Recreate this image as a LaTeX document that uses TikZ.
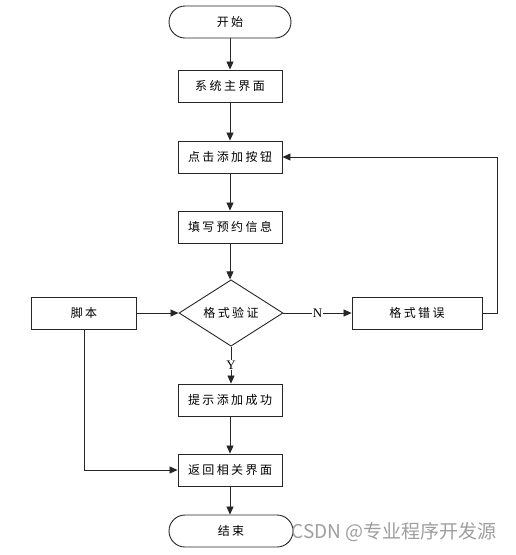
\documentclass[tikz,border=0pt]{standalone}
\usepackage{fontspec}
\setmainfont{Liberation Serif}
\newfontfamily\cjk[LetterSpace=20]{Noto Sans CJK SC}
\newfontfamily\wmfont{Noto Sans CJK SC}
\usetikzlibrary{shapes.geometric,arrows.meta}
\begin{document}
\begin{tikzpicture}[x=1pt,y=-1pt,
  every node/.style={inner sep=0pt},
  line/.style={draw=black!85, line width=0.8pt},
  arr/.style={line, -{Triangle[length=8pt,width=7pt]}},
  procbox/.style={draw=black!85, line width=0.9pt, minimum width=104pt, minimum height=32pt, font=\cjk\fontsize{12}{14}\selectfont},
  term/.style={draw=black!85, line width=0.9pt, rounded corners=16pt, minimum width=122pt, minimum height=32pt, font=\cjk\fontsize{12}{14}\selectfont},
  decision/.style={diamond, draw=black!85, line width=0.9pt, minimum width=104pt, minimum height=60pt, font=\cjk\fontsize{12}{14}\selectfont},
  lbl/.style={fill=white, inner sep=1pt, font=\fontsize{13}{14}\selectfont}
]
\useasboundingbox (0,0) rectangle (515,555);
\node[term] (start) at (230,22) {开始};
\node[procbox] (main) at (230,86) {系统主界面};
\node[procbox] (click) at (230,157) {点击添加按钮};
\node[procbox] (fill) at (230,227) {填写预约信息};
\node[decision] (dec) at (231,313) {格式验证};
\node[procbox, minimum width=105pt] (script) at (84,313) {脚本};
\node[procbox, minimum width=130pt] (err) at (417,313) {格式错误};
\node[procbox] (succ) at (230,400) {提示添加成功};
\node[procbox] (ret) at (230,470) {返回相关界面};
\node[term, minimum width=124pt] (end) at (231,531) {结束};
\coordinate (fbk) at (497,157);

\draw[arr] (start) -- (main);
\draw[arr] (main) -- (click);
\draw[arr] (click) -- (fill);
\draw[arr] (fill) -- (fill |- dec.north);
\draw[arr] (script) -- (dec);
\draw[arr] (dec) -- node[lbl]{N} (err);
\draw[arr] (dec.south) -- node[lbl]{Y} (dec.south |- succ.north);
\draw[arr] (err.east) -| (fbk) -- (click.east);
\draw[arr] (succ) -- (ret);
\draw[arr] (script.south) |- (ret.west);
\draw[arr] (ret) -- (ret |- end.north);

\node[text=black!38, font=\wmfont\fontsize{19}{21}\selectfont] (wm) at (394,532) {CSDN @专业程序开发源};
\end{tikzpicture}
\end{document}
